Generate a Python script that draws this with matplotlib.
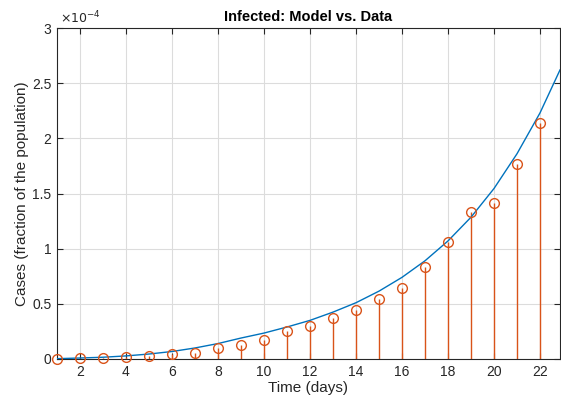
import matplotlib
matplotlib.use("Agg")
import matplotlib.pyplot as plt
from matplotlib.ticker import FuncFormatter

plt.rcParams["font.family"] = ["Liberation Sans", "DejaVu Sans"]

# observed data (fraction of population)
days = list(range(1, 23))
cases = [0.0, 0.006e-4, 0.012e-4, 0.021e-4, 0.031e-4, 0.049e-4, 0.056e-4, 0.096e-4,
         0.13e-4, 0.17e-4, 0.257e-4, 0.30e-4, 0.372e-4, 0.445e-4, 0.545e-4, 0.645e-4,
         0.836e-4, 1.062e-4, 1.33e-4, 1.415e-4, 1.763e-4, 2.14e-4]

# model curve
model_t = [1, 2, 3, 4, 5, 6, 7, 8, 9, 10, 11, 12, 13, 14, 15, 16, 17, 18, 19, 20,
           21, 22, 22.87]
model_i = [0.003e-4, 0.009e-4, 0.016e-4, 0.028e-4, 0.045e-4, 0.068e-4, 0.10e-4,
           0.14e-4, 0.19e-4, 0.235e-4, 0.29e-4, 0.35e-4, 0.425e-4, 0.51e-4, 0.615e-4,
           0.74e-4, 0.89e-4, 1.07e-4, 1.285e-4, 1.545e-4, 1.86e-4, 2.23e-4, 2.62e-4]

blue = "#0072BD"
orange = "#D95319"
axcol = "#262626"

fig = plt.figure(figsize=(5.61, 4.07), dpi=100)
ax = fig.add_axes([57 / 561, 48 / 407, 503 / 561, 331 / 407])

ax.plot(model_t, model_i, color=blue, lw=1.0, zorder=3)
ax.vlines(days, 0, cases, color=orange, lw=1.0, zorder=2)
ax.plot(days, cases, "o", mfc="none", mec=orange, ms=7, mew=1.0, zorder=4, clip_on=False)

ax.set_xlim(1, 22.87)
ax.set_ylim(0, 3e-4)
ax.set_xticks(range(2, 23, 2))
ax.set_yticks([i * 0.5e-4 for i in range(7)])
ax.yaxis.set_major_formatter(FuncFormatter(lambda v, p: f"{v / 1e-4:g}"))

ax.grid(True, color="#dcdcdc", lw=0.8)
ax.set_axisbelow(True)
ax.tick_params(direction="in", top=True, right=True, length=4, width=0.8,
               colors=axcol, labelsize=10, pad=4)
for s in ax.spines.values():
    s.set_color(axcol)
    s.set_linewidth(0.8)

ax.set_title("Infected: Model vs. Data", fontsize=10.5, fontweight="bold", pad=5)
ax.set_xlabel("Time (days)", fontsize=11, color=axcol, labelpad=2)
ax.set_ylabel("Cases (fraction of the population)", fontsize=11, color=axcol, labelpad=2)
ax.text(0.005, 1.005, r"$\times10^{-4}$", transform=ax.transAxes, fontsize=9,
        color=axcol, ha="left", va="bottom")

fig.savefig("out.png", dpi=100)
